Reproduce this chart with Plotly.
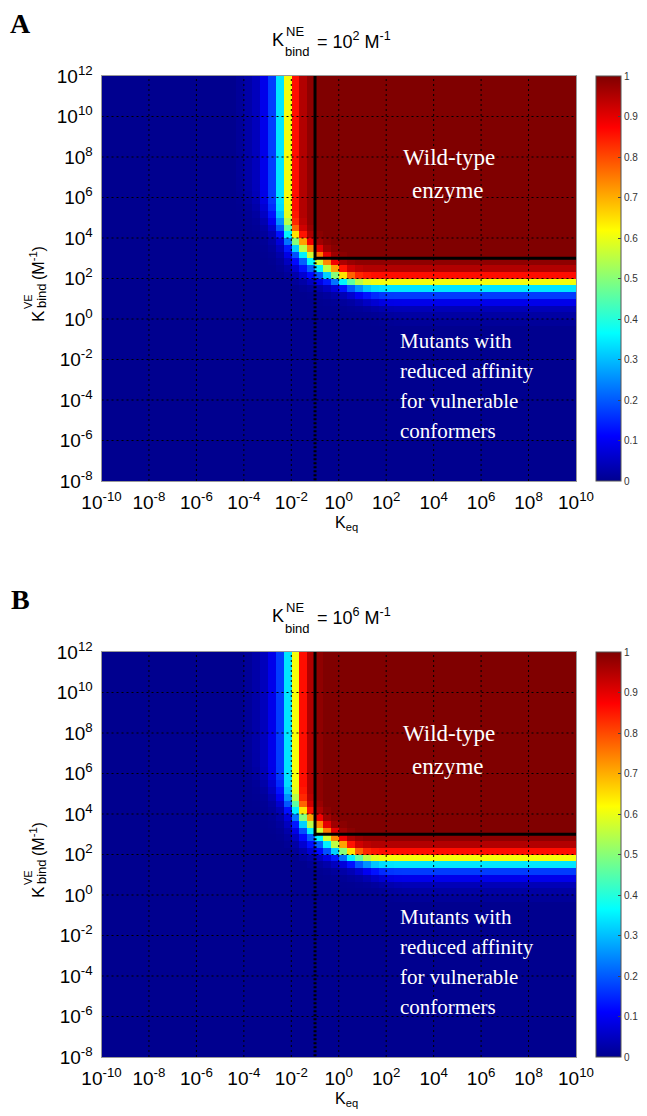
import plotly.graph_objects as go

W, H = 647, 1116

# ---------------- data (exponents of 10) ----------------
KEQ_TICK_EXP = [-10, -8, -6, -4, -2, 0, 2, 4, 6, 8, 10]
KBIND_TICK_EXP = [-8, -6, -4, -2, 0, 2, 4, 6, 8, 10, 12]
KEQ_RANGE = [-10, 10]
KBIND_RANGE = [-8, 12]
CELLS_PER_DECADE = 3
N_KEQ = 60
N_KBIND = 60
CBAR_TICKS = [0, 0.1, 0.2, 0.3, 0.4, 0.5, 0.6, 0.7, 0.8, 0.9, 1]

# column profile (upper region, along Keq)
COL_BAND_A_START = 17
COL_BAND_A = [0.01, 0.025, 0.045, 0.09, 0.17, 0.34, 0.61, 0.86, 0.95, 0.985]
COL_BAND_B_START = 18
COL_BAND_B = [0.01, 0.025, 0.045, 0.09, 0.17, 0.34, 0.61, 0.86, 0.95, 0.985]
# row profile (right region, along Kbind)
ROW_BAND_A_START = 23
ROW_BAND_A = [0.01, 0.02, 0.04, 0.09, 0.17, 0.34, 0.61, 0.86, 0.95, 0.985]
ROW_BAND_B_START = 23
ROW_BAND_B = [0.01, 0.02, 0.04, 0.09, 0.17, 0.34, 0.61, 0.86, 0.95, 0.985]
# diagonal profile (corner), indexed by column+row cell index
DIAG_BAND_A_START = 53
DIAG_BAND_A = [0.02, 0.04, 0.08, 0.14, 0.22, 0.37, 0.58, 0.75, 0.9, 0.97, 0.99]
DIAG_BAND_B_START = 54
DIAG_BAND_B = [0.02, 0.04, 0.08, 0.14, 0.22, 0.37, 0.58, 0.75, 0.9, 0.97, 0.99]

KEQ_THRESHOLD_EXP = -1
KBIND_THRESHOLD_EXP = 3

TITLE_EXP = ["2", "6"]
PANEL_LABELS = ["A", "B"]

# ---------------- helpers ----------------
def band_value(k, start, band):
    if k < start:
        return 0.0
    if k - start < len(band):
        return band[k - start]
    return 1.0


def build_z(cs, cb, rs, rb, ds, db):
    z = []
    for j in range(N_KBIND):
        row = []
        for i in range(N_KEQ):
            row.append(band_value(i, cs, cb) * band_value(j, rs, rb) * band_value(i + j, ds, db))
        z.append(row)
    return z


Z_A = build_z(COL_BAND_A_START, COL_BAND_A, ROW_BAND_A_START, ROW_BAND_A, DIAG_BAND_A_START, DIAG_BAND_A)
Z_B = build_z(COL_BAND_B_START, COL_BAND_B, ROW_BAND_B_START, ROW_BAND_B, DIAG_BAND_B_START, DIAG_BAND_B)

JET = [[0.0, "rgb(0,0,143)"], [0.111, "rgb(0,0,255)"], [0.365, "rgb(0,255,255)"],
       [0.619, "rgb(255,255,0)"], [0.873, "rgb(255,0,0)"], [1.0, "rgb(128,0,0)"]]

SANS = "Liberation Sans, Arial, sans-serif"
SERIF = "Liberation Serif, Times New Roman, serif"


def px(x):
    return x / W


def py(y):
    return 1 - y / H


def sup(e):
    return "10<sup>%d</sup>" % e


fig = go.Figure()
annotations = []

PLOT_L, PLOT_R = 101.5, 576
PLOT_T0, PLOT_B0 = 76, 481
OFFSETS = [0, 576]

for p, (z, off) in enumerate(zip([Z_A, Z_B], OFFSETS)):
    xa = "x" if p == 0 else "x2"
    ya = "y" if p == 0 else "y2"
    top, bot = PLOT_T0 + off, PLOT_B0 + off
    fig.add_trace(go.Heatmap(
        z=z, x0=KEQ_RANGE[0] + 0.5 / CELLS_PER_DECADE, dx=1 / CELLS_PER_DECADE,
        y0=KBIND_RANGE[0] + 0.5 / CELLS_PER_DECADE, dy=1 / CELLS_PER_DECADE,
        zmin=0, zmax=1, colorscale=JET, xaxis=xa, yaxis=ya, hoverinfo="skip",
        colorbar=dict(x=px(596), xanchor="left", y=py(top), yanchor="top",
                      len=bot - top, lenmode="pixels", thickness=25, thicknessmode="pixels",
                      xpad=0, ypad=0, outlinewidth=1, outlinecolor="#555",
                      tickvals=CBAR_TICKS, ticktext=[("%g" % v) for v in CBAR_TICKS],
                      ticks="inside", ticklen=3, tickcolor="#444",
                      tickfont=dict(family=SANS, size=10, color="#333")),
    ))
    # grid lines (dotted, above heatmap)
    gx, gy = [], []
    for v in KEQ_TICK_EXP[1:-1]:
        gx += [v, v, None]
        gy += [KBIND_RANGE[0], KBIND_RANGE[1], None]
    for v in KBIND_TICK_EXP[1:-1]:
        gx += [KEQ_RANGE[0], KEQ_RANGE[1], None]
        gy += [v, v, None]
    fig.add_trace(go.Scatter(x=gx, y=gy, mode="lines", xaxis=xa, yaxis=ya,
                             line=dict(color="black", width=1, dash="2px,3px"),
                             hoverinfo="skip", showlegend=False))
    # threshold lines
    fig.add_trace(go.Scatter(x=[KEQ_THRESHOLD_EXP, KEQ_THRESHOLD_EXP, KEQ_RANGE[1]],
                             y=[KBIND_RANGE[1], KBIND_THRESHOLD_EXP, KBIND_THRESHOLD_EXP],
                             mode="lines", xaxis=xa, yaxis=ya,
                             line=dict(color="black", width=3), hoverinfo="skip", showlegend=False))
    fig.add_trace(go.Scatter(x=[KEQ_THRESHOLD_EXP, KEQ_THRESHOLD_EXP],
                             y=[KBIND_THRESHOLD_EXP, KBIND_RANGE[0]],
                             mode="lines", xaxis=xa, yaxis=ya,
                             line=dict(color="black", width=3, dash="2px,2px"),
                             hoverinfo="skip", showlegend=False))

    axis_common = dict(showgrid=False, zeroline=False, showline=True, mirror=True,
                       linecolor="#999", linewidth=1, ticks="", automargin=False,
                       tickfont=dict(family=SANS, size=19, color="black"))
    xkey = "xaxis" if p == 0 else "xaxis2"
    ykey = "yaxis" if p == 0 else "yaxis2"
    fig.update_layout(**{
        xkey: dict(domain=[px(PLOT_L), px(PLOT_R)], range=KEQ_RANGE, anchor=ya,
                   ticklabelstandoff=4,
                   tickvals=KEQ_TICK_EXP, ticktext=[sup(e) for e in KEQ_TICK_EXP], **axis_common),
        ykey: dict(domain=[py(bot), py(top)], range=KBIND_RANGE, anchor=xa,
                   ticklabelstandoff=4,
                   tickvals=KBIND_TICK_EXP, ticktext=[sup(e) for e in KBIND_TICK_EXP], **axis_common),
    })

    def ann(text, x, y, size, family=SANS, color="black", xanchor="center", angle=0):
        annotations.append(dict(text=text, x=px(x), y=py(y), xref="paper", yref="paper",
                                showarrow=False, xanchor=xanchor, yanchor="middle",
                                textangle=angle, font=dict(family=family, size=size, color=color)))

    # panel letter
    ann("<b>%s</b>" % PANEL_LABELS[p], 20, 23 + off, 28, family=SERIF)
    # title with stacked sub/superscript
    ann("K", 270, 40 + off, 18, xanchor="left")
    ann("NE", 284, 31 + off, 13, xanchor="left")
    ann("bind", 283, 52 + off, 13, xanchor="left")
    ann("= 10<sup>%s</sup> M<sup>-1</sup>" % TITLE_EXP[p], 315, 40 + off, 18, xanchor="left")
    # x axis title
    ann("K<sub>eq</sub>", 346, 523 + off, 16)
    # y axis title (rotated, stacked)
    ann("K", 38, 316 + off, 17, angle=-90)
    ann("VE", 28, 302 + off, 11, angle=-90)
    ann("bind", 41, 296 + off, 13, angle=-90)
    ann("(M<sup>-1</sup>)", 37, 263 + off, 16, angle=-90)
    # in-plot labels
    ann("Wild-type", 449, 157 + off, 23, family=SERIF, color="white")
    ann("enzyme", 448, 190 + off, 23, family=SERIF, color="white")
    for k, line in enumerate(["Mutants with", "reduced affinity", "for vulnerable", "conformers"]):
        ann(line, 398, 341 + 30 * k + off, 21, family=SERIF, color="white", xanchor="left")

fig.update_layout(width=W, height=H, margin=dict(l=0, r=0, t=0, b=0),
                  paper_bgcolor="white", plot_bgcolor="white", showlegend=False,
                  annotations=annotations)

fig.write_html("out.html")
